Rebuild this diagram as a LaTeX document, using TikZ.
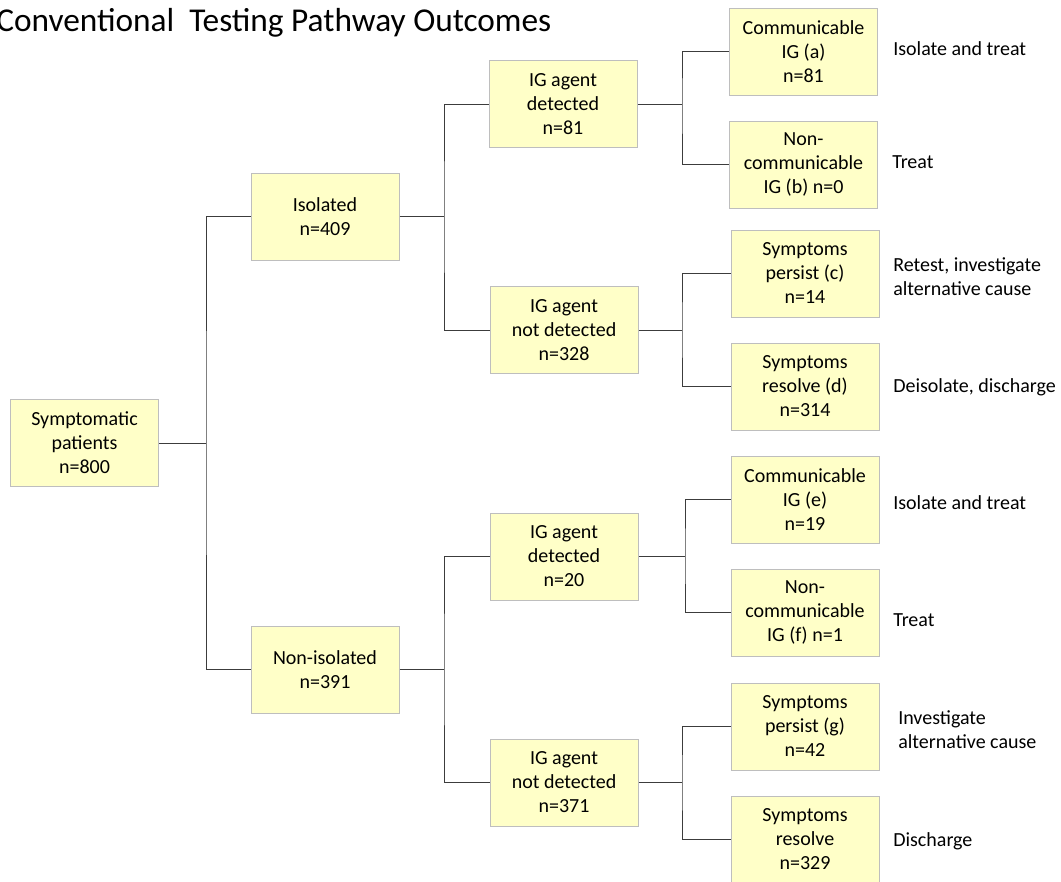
\documentclass[tikz,border=0pt]{standalone}
\usepackage{fontspec}
\setmainfont{Carlito}
\begin{document}
\begin{tikzpicture}[x=0.75pt,y=-0.75pt,
  box/.style={draw=boxgray,fill=boxfill,line width=0.75pt,minimum width=111pt,minimum height=65.25pt,inner sep=0pt,align=center,font=\fontsize{15}{18}\selectfont},
  outc/.style={anchor=west,align=left,inner sep=0pt,font=\fontsize{15}{18}\selectfont},
  link/.style={draw=linegray,line width=0.75pt}]
\definecolor{boxgray}{RGB}{190,190,190}
\definecolor{boxfill}{RGB}{255,255,200}
\definecolor{linegray}{RGB}{60,60,60}
\useasboundingbox (0,0) rectangle (1061,882);
\node[anchor=base west,inner sep=0pt,font=\fontsize{25}{30}\selectfont] (title) at (-4,31.5) {Conventional\ \ Testing Pathway Outcomes};
% level 0
\node[box] (sym) at (84.5,443) {Symptomatic\\patients\\n=800};
% level 1
\node[box] (iso) at (325,216.5) {Isolated\\n=409};
\node[box] (non) at (325,669.5) {Non-isolated\\n=391};
% level 2
\node[box] (d1) at (563,104) {IG agent\\detected\\n=81};
\node[box] (n1) at (564,330) {IG agent\\not detected\\n=328};
\node[box] (d2) at (564,556.5) {IG agent\\detected\\n=20};
\node[box] (n2) at (564,782.5) {IG agent\\not detected\\n=371};
% level 3
\node[box] (a) at (803.5,51.5) {Communicable\\IG (a)\\n=81};
\node[box] (b) at (803.5,164.5) {Non-\\communicable\\IG (b) n=0};
\node[box] (c) at (805,273.5) {Symptoms\\persist (c)\\n=14};
\node[box] (d) at (805,386.5) {Symptoms\\resolve (d)\\n=314};
\node[box] (e) at (805,499.5) {Communicable\\IG (e)\\n=19};
\node[box] (f) at (805,612.5) {Non-\\communicable\\IG (f) n=1};
\node[box] (g) at (805,726.5) {Symptoms\\persist (g)\\n=42};
\node[box] (h) at (805,839.5) {Symptoms\\resolve\\n=329};
% outcomes
\node[outc] (oa) at (893,49) {Isolate and treat};
\node[outc] (ob) at (892,162) {Treat};
\node[outc] (oc) at (893,277) {Retest, investigate\\alternative cause};
\node[outc] (od) at (893,387) {Deisolate, discharge};
\node[outc] (oe) at (893,503) {Isolate and treat};
\node[outc] (of) at (893,620) {Treat};
\node[outc] (og) at (898,730) {Investigate\\alternative cause};
\node[outc] (oh) at (893,841) {Discharge};
% junctions
\coordinate (j0) at (206,443);
\coordinate (j1) at (444,216.5);
\coordinate (j2) at (444,669.5);
\coordinate (j3) at (682,104);
\coordinate (j4) at (682,330);
\coordinate (j5) at (685,556.5);
\coordinate (j6) at (682,782.5);
\draw[link] (sym.east) -- (j0);
\draw[link] (iso.west) -| (j0) |- (non.west);
\draw[link] (iso.east) -- (j1);
\draw[link] (d1.west) -| (j1) |- (n1.west);
\draw[link] (non.east) -- (j2);
\draw[link] (d2.west) -| (j2) |- (n2.west);
\draw[link] (d1.east) -- (j3);
\draw[link] (a.west) -| (j3) |- (b.west);
\draw[link] (n1.east) -- (j4);
\draw[link] (c.west) -| (j4) |- (d.west);
\draw[link] (d2.east) -- (j5);
\draw[link] (e.west) -| (j5) |- (f.west);
\draw[link] (n2.east) -- (j6);
\draw[link] (g.west) -| (j6) |- (h.west);
\end{tikzpicture}
\end{document}
